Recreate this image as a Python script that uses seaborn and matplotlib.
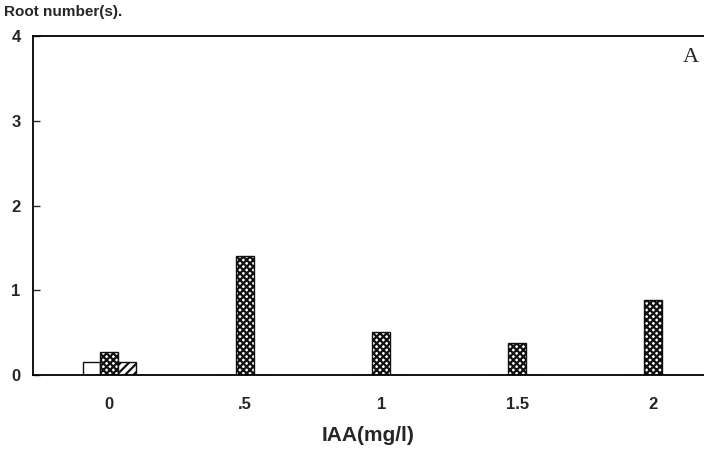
import matplotlib
matplotlib.use("Agg")
import matplotlib.pyplot as plt
import seaborn as sns
import pandas as pd

# IAA concentrations (mg/l) and mean root numbers for the three explant series
concentrations = ["0", ".5", "1", "1.5", "2"]
series_names = ["Series 1", "Series 2", "Series 3"]
series_1 = [0.15, 0.0, 0.0, 0.0, 0.0]
series_2 = [0.27, 1.40, 0.51, 0.38, 0.88]
series_3 = [0.15, 0.0, 0.0, 0.0, 0.0]
y_ticks = [0, 1, 2, 3, 4]

records = []
for name, values in zip(series_names, [series_1, series_2, series_3]):
    for conc, val in zip(concentrations, values):
        records.append({"IAA": conc, "series": name, "roots": val})
df = pd.DataFrame(records)

sns.set_theme(style="white")
plt.rcParams["font.family"] = ["Liberation Sans", "DejaVu Sans"]
plt.rcParams["hatch.linewidth"] = 1.6

fig = plt.figure(figsize=(7.04, 4.5), dpi=100)
ax = fig.add_axes([33 / 704, 1 - 375 / 450, 1 - 33 / 704, (375 - 36) / 450])

sns.barplot(data=df, x="IAA", y="roots", hue="series", order=concentrations,
            hue_order=series_names, palette=["white"] * 3, width=0.39,
            gap=0, legend=False, errorbar=None, ax=ax)

hatches = ["", "xxxxx", "////"]
for container, hatch in zip(ax.containers, hatches):
    for bar in container:
        bar.set_facecolor("white")
        bar.set_edgecolor("#111111")
        bar.set_linewidth(1.0)
        bar.set_hatch(hatch)

ax.set_xlim(-0.56, -0.56 + 671 / 136)
ax.set_ylim(0, 4)
ax.set_yticks(y_ticks)
ax.set_yticklabels([str(t) for t in y_ticks], fontsize=12, fontweight="bold")
ax.tick_params(axis="y", direction="in", length=5, width=1, left=True, pad=9)
ax.tick_params(axis="x", length=0, pad=16, labelsize=12)
for lbl in ax.get_xticklabels():
    lbl.set_fontweight("bold")

for side in ["left", "bottom", "top"]:
    ax.spines[side].set_color("black")
    ax.spines[side].set_linewidth(1.3)
ax.spines["right"].set_visible(False)

ax.set_xlabel("IAA(mg/l)", fontsize=15, fontweight="bold", labelpad=10)
ax.set_ylabel("")
fig.text(4 / 704, 1 - 12 / 450, "Root number(s).", fontsize=11,
         fontweight="bold", ha="left", va="center")
fig.text(683 / 704, 1 - 57 / 450, "A", fontsize=16, family="Liberation Serif",
         ha="left", va="center")

fig.savefig("out.png", dpi=100)
